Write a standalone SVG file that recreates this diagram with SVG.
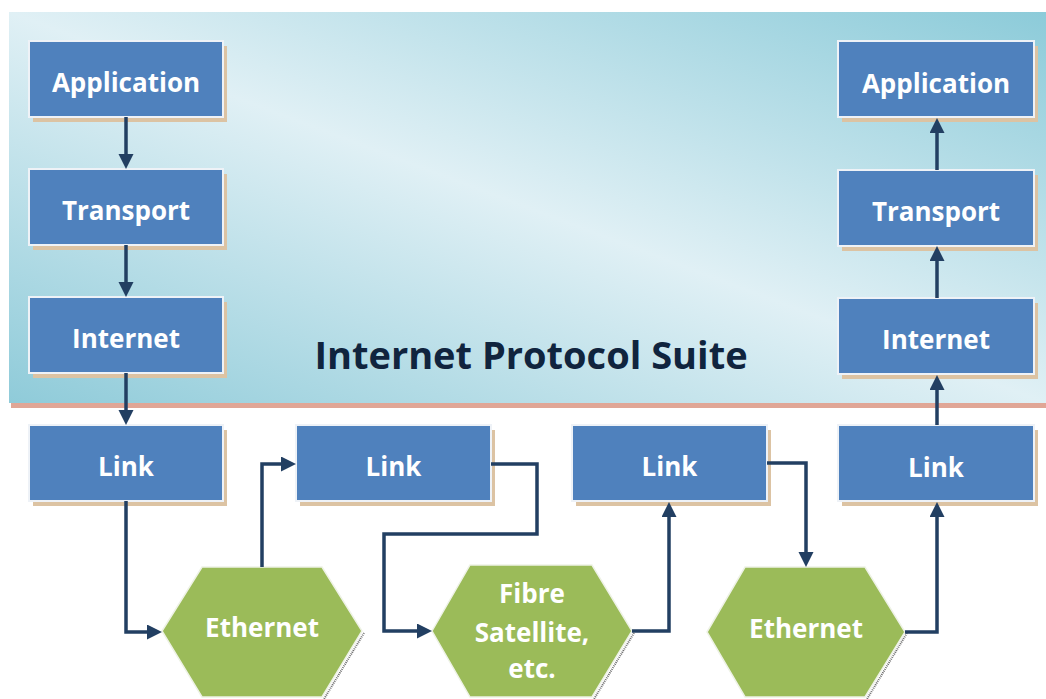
<svg xmlns="http://www.w3.org/2000/svg" width="1046" height="699" viewBox="0 0 1046 699">
  <defs>
    <linearGradient id="panelFill" x1="0" y1="1" x2="1" y2="0">
      <stop offset="0" stop-color="#8fcbd9"/>
      <stop offset="0.5" stop-color="#e0f0f5"/>
      <stop offset="1" stop-color="#8ccbd9"/>
    </linearGradient>
    <marker id="arrow" markerUnits="userSpaceOnUse" markerWidth="16" markerHeight="16" refX="4" refY="7.5" orient="auto">
      <path d="M0,0 L15,7.5 L0,15 z" fill="#223f62"/>
    </marker>
    <style>
      .shadow { fill: #dcc3a3; }
      .box { fill: #4f81bd; stroke: #eef2f7; stroke-width: 2; }
      .hex { fill: #9bbb59; stroke: #eef2e6; stroke-width: 1.5; }
      .hexedge { fill: none; stroke: #6f6f6f; stroke-width: 2; stroke-dasharray: 1 1; }
      .label { font-family: "Open Sans", "Liberation Sans", sans-serif; font-weight: bold; font-size: 26px; fill: #ffffff; text-anchor: middle; }
      .title { font-family: "Open Sans", "Liberation Sans", sans-serif; font-weight: bold; font-size: 38px; fill: #10243e; text-anchor: middle; }
      .wire { fill: none; stroke: #223f62; stroke-width: 3.5; marker-end: url(#arrow); }
    </style>
  </defs>

  <!-- background panel for the protocol suite -->
  <rect x="9" y="12" width="1037" height="391" fill="url(#panelFill)"/>
  <rect x="11" y="403" width="1035" height="5" fill="#e0a696"/>
  <text class="title" x="531" y="369">Internet Protocol Suite</text>

  <!-- left host stack -->
  <g id="app-left">
    <rect class="shadow" x="33" y="46" width="194" height="76"/>
    <rect class="box" x="29" y="41" width="194" height="76"/>
    <text class="label" x="126" y="92">Application</text>
  </g>
  <g id="transport-left">
    <rect class="shadow" x="33" y="174" width="194" height="76"/>
    <rect class="box" x="29" y="169" width="194" height="76"/>
    <text class="label" x="126" y="220">Transport</text>
  </g>
  <g id="internet-left">
    <rect class="shadow" x="33" y="302" width="194" height="76"/>
    <rect class="box" x="29" y="297" width="194" height="76"/>
    <text class="label" x="126" y="348">Internet</text>
  </g>
  <g id="link-left">
    <rect class="shadow" x="33" y="430" width="194" height="76"/>
    <rect class="box" x="29" y="425" width="194" height="76"/>
    <text class="label" x="126" y="476">Link</text>
  </g>

  <!-- intermediate link layers -->
  <g id="link-2">
    <rect class="shadow" x="300" y="430" width="195" height="76"/>
    <rect class="box" x="296" y="425" width="195" height="76"/>
    <text class="label" x="393.5" y="476">Link</text>
  </g>
  <g id="link-3">
    <rect class="shadow" x="576" y="430" width="195" height="76"/>
    <rect class="box" x="572" y="425" width="195" height="76"/>
    <text class="label" x="669.5" y="476">Link</text>
  </g>

  <!-- right host stack -->
  <g id="app-right">
    <rect class="shadow" x="842" y="46" width="196" height="76"/>
    <rect class="box" x="838" y="41" width="196" height="76"/>
    <text class="label" x="936" y="93">Application</text>
  </g>
  <g id="transport-right">
    <rect class="shadow" x="842" y="175" width="196" height="76"/>
    <rect class="box" x="838" y="170" width="196" height="76"/>
    <text class="label" x="936" y="221">Transport</text>
  </g>
  <g id="internet-right">
    <rect class="shadow" x="842" y="303" width="196" height="76"/>
    <rect class="box" x="838" y="298" width="196" height="76"/>
    <text class="label" x="936" y="349">Internet</text>
  </g>
  <g id="link-right">
    <rect class="shadow" x="842" y="430" width="196" height="76"/>
    <rect class="box" x="838" y="425" width="196" height="76"/>
    <text class="label" x="936" y="477">Link</text>
  </g>

  <!-- physical media -->
  <g id="ethernet-1">
    <polyline class="hexedge" points="364,633 324,699"/>
    <polygon class="hex" points="162,631 202,567 322,567 362,631 322,697 202,697"/>
    <text class="label" x="262" y="637">Ethernet</text>
  </g>
  <g id="fibre-satellite">
    <polyline class="hexedge" points="634,633 594,699"/>
    <polygon class="hex" points="432,631 470,565 592,565 632,631 592,697 470,697"/>
    <text class="label" x="532" y="603">Fibre</text>
    <text class="label" x="532" y="642">Satellite,</text>
    <text class="label" x="532" y="678">etc.</text>
  </g>
  <g id="ethernet-2">
    <polyline class="hexedge" points="907,633 867,699"/>
    <polygon class="hex" points="707,632 745,567 865,567 905,632 865,697 745,697"/>
    <text class="label" x="806" y="638">Ethernet</text>
  </g>

  <!-- connectors -->
  <g id="connectors">
    <path class="wire" d="M126,117 V158"/>
    <path class="wire" d="M126,245 V286"/>
    <path class="wire" d="M126,373 V414"/>
    <path class="wire" d="M126,501 V632 H151"/>
    <path class="wire" d="M262,567 V464 H285"/>
    <path class="wire" d="M491,464 H537 V534 H384 V631 H421"/>
    <path class="wire" d="M632,631 H669 V513"/>
    <path class="wire" d="M767,463 H806 V556"/>
    <path class="wire" d="M905,632 H937 V513"/>
    <path class="wire" d="M937,425 V386"/>
    <path class="wire" d="M937,298 V257"/>
    <path class="wire" d="M937,170 V129"/>
  </g>
</svg>
